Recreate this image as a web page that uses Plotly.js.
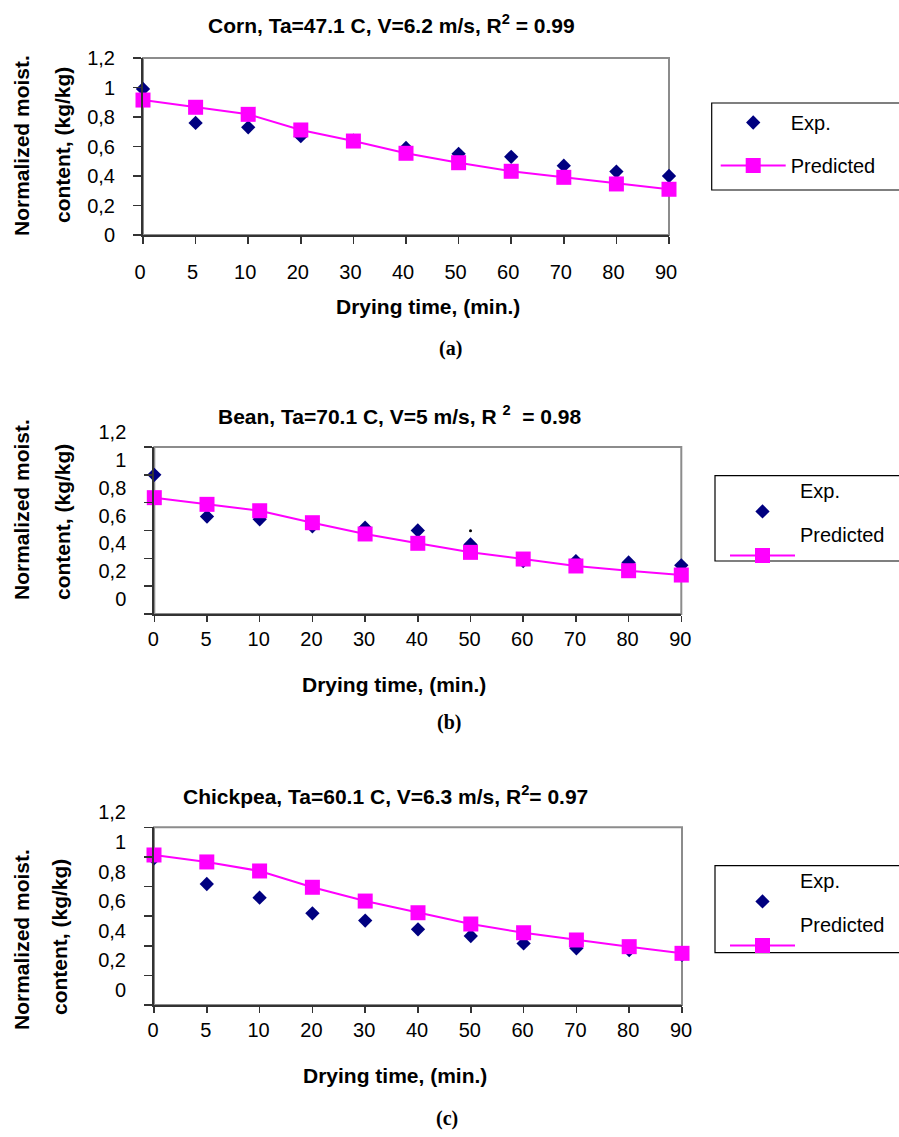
<!DOCTYPE html>
<html>
<head>
<meta charset="utf-8">
<script src="https://cdn.plot.ly/plotly-3.0.1.min.js"></script>
<style>html,body{margin:0;padding:0;background:#fff;}#chart{width:899px;height:1137px;}</style>
</head>
<body>
<div id="chart"></div>
<script>
// ---- data ----
const times = ["0","5","10","20","30","40","50","60","70","80","90"];
const cornExp   = [0.99,0.76,0.73,0.67,0.64,0.59,0.55,0.53,0.47,0.43,0.40];
const cornPred  = [0.915,0.866,0.818,0.712,0.637,0.554,0.49,0.432,0.391,0.346,0.31];
const beanExp   = [1.0,0.70,0.68,0.63,0.62,0.60,0.50,0.38,0.38,0.37,0.35];
const beanPred  = [0.836,0.788,0.742,0.656,0.575,0.508,0.443,0.395,0.345,0.311,0.28];
const chickExp  = [0.99,0.817,0.725,0.619,0.57,0.511,0.466,0.416,0.383,0.371,0.338];
const chickPred = [1.013,0.966,0.905,0.795,0.702,0.623,0.547,0.488,0.439,0.394,0.349];
const strayDotX = ["50"];
const strayDotY = [0.598];
const yTickVals = [0,0.2,0.4,0.6,0.8,1,1.2];
const yTickText = ["0","0,2","0,4","0,6","0,8","1","1,2"];
const titles = [
  "Corn, Ta=47.1 C, V=6.2 m/s, R<sup>2</sup> = 0.99",
  "Bean, Ta=70.1 C, V=5 m/s, R <sup>2</sup>  = 0.98",
  "Chickpea, Ta=60.1 C, V=6.3 m/s, R<sup>2</sup>= 0.97"
];
const xTitle = "Drying time, (min.)";
const yTitle1 = "Normalized moist.";
const yTitle2 = "content, (kg/kg)";
const captions = ["(a)","(b)","(c)"];

// ---- layout helpers ----
const W = 899, H = 1137;
const fx = v => v / W;
const fy = v => 1 - v / H;
const FONT = "Liberation Sans, Arial, sans-serif";
const NAVY = "#000080", MAG = "#FF00FF", AX = "#333333";

// plot boxes in pixels [left,right,top,bottom]
const boxes = [
  [143, 669, 58, 235],
  [154.3, 681.3, 447, 614],
  [154, 682, 827.3, 1005]
];
const series = [[cornExp, cornPred],[beanExp, beanPred],[chickExp, chickPred]];
const legendNames = ["legend","legend2","legend3"];

const data = [];
const layout = {
  width: W, height: H,
  margin: {l:0, r:0, t:0, b:0, autoexpand:false},
  paper_bgcolor: "#fff", plot_bgcolor: "#fff",
  font: {family: FONT, color: "#000", size: 20},
  shapes: [], annotations: []
};

boxes.forEach((b, i) => {
  const n = i === 0 ? "" : String(i + 1);
  const xa = "x" + n, ya = "y" + n;
  const two = i !== 0;
  data.push({
    x: times, y: series[i][0], xaxis: xa, yaxis: ya, type: "scatter", mode: "markers",
    name: two ? "<span style='font-size:20px'>Exp.</span><br>\u00a0" : "Exp.",
    legend: legendNames[i], legendgroup: "e" + i,
    marker: {symbol: "diamond", size: 11, color: NAVY}, cliponaxis: false
  });
  data.push({
    x: times, y: series[i][1], xaxis: xa, yaxis: ya, type: "scatter", mode: "lines+markers",
    name: two ? "<span style='font-size:20px'>Predicted</span><br>\u00a0" : "Predicted",
    legend: legendNames[i], legendgroup: "p" + i,
    line: {color: MAG, width: 2}, marker: {symbol: "square", size: 15, color: MAG}, cliponaxis: false
  });
  layout["xaxis" + n] = {
    domain: [fx(b[0]), fx(b[1])], anchor: ya, type: "category",
    categoryorder: "array", categoryarray: times, range: [0, times.length - 1],
    showgrid: false, zeroline: false, showline: true, linecolor: AX, linewidth: 2,
    ticks: "outside", ticklen: two ? 6 : 7, tickwidth: 1.5, tickcolor: AX,
    tickfont: {family: FONT, size: 20, color: "#000"},
    ticklabelstandoff: two ? 0 : 11, ticklabelshift: two ? -1 : -3
  };
  layout["yaxis" + n] = {
    domain: [fy(b[3]), fy(b[2])], anchor: xa, range: [0, 1.2],
    tickvals: yTickVals, ticktext: yTickText,
    showgrid: false, zeroline: false, showline: true, linecolor: AX, linewidth: 2,
    ticks: "outside", ticklen: 8, tickwidth: 1.5, tickcolor: AX,
    tickfont: {family: FONT, size: 20, color: "#000"},
    ticklabelstandoff: 14, ticklabelshift: two ? -15 : 0
  };
  layout.shapes.push({
    type: "rect", xref: xa + " domain", yref: ya + " domain", x0: 0, x1: 1, y0: 0, y1: 1,
    line: {color: "#8c8c8c", width: 2}, layer: "below"
  });
});

data.push({
  x: strayDotX, y: strayDotY, xaxis: "x2", yaxis: "y2", type: "scatter", mode: "markers",
  marker: {size: 3, color: "#000"}, showlegend: false, hoverinfo: "skip"
});

// legend frames (boxes run off the right edge as in the reference)
const legBoxes = [[711.7, 103, 190], [715, 475.7, 561], [715, 865.7, 952.7]];
legBoxes.forEach(lb => {
  layout.shapes.push({
    type: "rect", xref: "paper", yref: "paper", x0: fx(lb[0]), x1: fx(W + 20), y0: fy(lb[2]), y1: fy(lb[1]),
    line: {color: "#000", width: 1.2}, layer: "above"
  });
});

// legends
const legBase = {
  xanchor: "left", yanchor: "top", borderwidth: 0, bgcolor: "rgba(0,0,0,0)",
  itemwidth: 65, traceorder: "grouped", itemclick: false
};
layout.legend  = Object.assign({}, legBase, {x: fx(715.7), y: fy(103), tracegroupgap: 14, font: {family: FONT, size: 20, color: "#000"}, valign: "middle"});
layout.legend2 = Object.assign({}, legBase, {x: fx(725), y: fy(475.7), tracegroupgap: 2, font: {family: FONT, size: 15, color: "#000"}, valign: "bottom"});
layout.legend3 = Object.assign({}, legBase, {x: fx(725), y: fy(865.7), tracegroupgap: 2, font: {family: FONT, size: 15, color: "#000"}, valign: "bottom"});

// text annotations
const ann = (text, x, y, opts) => Object.assign({
  text: text, x: fx(x), y: fy(y), xref: "paper", yref: "paper", showarrow: false,
  xanchor: "center", yanchor: "middle"
}, opts || {});
const bold = {family: FONT, size: 21, color: "#000", weight: "bold"};
const titlePos = [[391, 24], [400, 415], [385, 795]];
const xtPos = [[427.5, 307], [393.5, 685], [395, 1075]];
const yt1Pos = [[21, 146], [21, 510], [21, 940]];
const yt2Pos = [[62, 145], [62, 522], [59, 937]];
const capPos = [[450, 348], [449, 722], [447, 1118]];
for (let i = 0; i < 3; i++) {
  layout.annotations.push(ann(titles[i], titlePos[i][0], titlePos[i][1], {font: bold}));
  layout.annotations.push(ann(xTitle, xtPos[i][0], xtPos[i][1], {font: bold}));
  layout.annotations.push(ann(yTitle1, yt1Pos[i][0], yt1Pos[i][1], {font: bold, textangle: -90}));
  layout.annotations.push(ann(yTitle2, yt2Pos[i][0], yt2Pos[i][1], {font: bold, textangle: -90}));
  layout.annotations.push(ann(captions[i], capPos[i][0], capPos[i][1], {font: {family: "Liberation Serif, Times New Roman, serif", size: 20, color: "#000", weight: "bold"}}));
}

Plotly.newPlot("chart", data, layout, {staticPlot: true, displayModeBar: false});
</script>
</body>
</html>
